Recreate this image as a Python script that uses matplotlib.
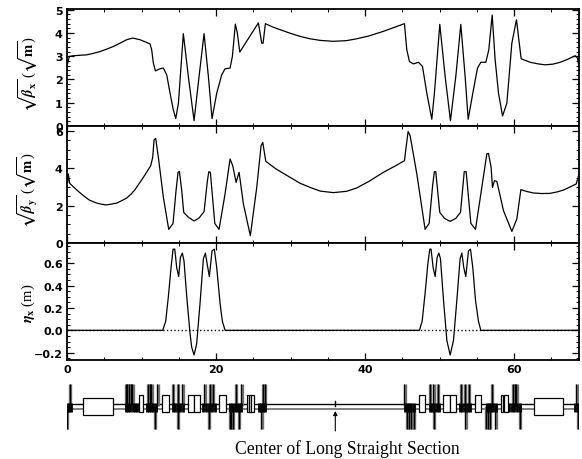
import matplotlib
matplotlib.use('Agg')
import matplotlib.pyplot as plt
from matplotlib.patches import Rectangle
from matplotlib.ticker import MultipleLocator

# optics functions
s_betax = [0.09, 0.31, 0.85, 1.7, 2.64, 3.5, 4.43, 5.3, 6.22, 7.1, 8.01, 8.81, 9.8, 11.14, 11.36, 11.59, 11.86, 12.48, 12.93, 13.38, 13.83, 14.27, 14.59, 14.95, 15.61, 16.28, 17.05, 17.72, 18.39, 18.97, 19.46, 20.09, 20.76, 21.21, 21.88, 22.19, 22.59, 22.86, 23.18, 25.68, 26.13, 26.31, 26.62, 27.5, 28.6, 29.93, 31.3, 32.62, 34.0, 35.75, 37.5, 38.88, 40.5, 42.46, 44.0, 45.28, 45.59, 45.95, 46.49, 47.16, 47.7, 48.28, 48.95, 49.3, 50.02, 50.74, 51.45, 52.17, 52.84, 53.42, 53.83, 54.45, 55.08, 55.53, 56.2, 56.6, 57.05, 57.45, 57.9, 58.44, 59.02, 59.69, 60.31, 60.63, 60.94, 62.15, 63.2, 64.16, 65.2, 66.18, 67.2, 68.19, 68.5, 68.68]
betax = [2.70, 2.99, 3.02, 3.04, 3.06, 3.12, 3.20, 3.30, 3.42, 3.56, 3.71, 3.78, 3.71, 3.53, 3.28, 2.70, 2.37, 2.46, 2.49, 2.20, 1.41, 0.69, 0.32, 0.98, 3.97, 2.13, 0.23, 2.13, 3.97, 2.13, 0.32, 1.41, 2.20, 2.46, 2.49, 2.99, 4.38, 3.99, 3.18, 4.43, 3.56, 3.56, 4.40, 4.27, 4.14, 3.99, 3.85, 3.75, 3.68, 3.64, 3.67, 3.75, 3.87, 4.07, 4.25, 4.40, 3.28, 2.77, 2.67, 2.74, 2.56, 1.41, 0.29, 1.41, 4.37, 2.13, 0.23, 2.13, 4.37, 2.13, 0.29, 1.41, 2.49, 2.74, 2.74, 3.28, 4.77, 2.84, 1.41, 0.43, 0.98, 3.56, 4.57, 3.71, 2.89, 2.74, 2.67, 2.63, 2.66, 2.74, 2.87, 3.02, 2.92, 2.56]

s_betay = [0.09, 0.18, 0.36, 1.2, 2.19, 3.0, 3.98, 4.6, 5.23, 5.9, 6.67, 7.3, 8.01, 8.6, 9.13, 10.25, 11.23, 11.5, 11.68, 11.9, 12.26, 12.93, 13.65, 14.23, 14.63, 14.9, 15.08, 15.4, 15.66, 16.28, 17.05, 17.72, 18.39, 18.84, 19.03, 19.24, 19.83, 20.4, 21.21, 21.88, 22.24, 22.69, 23.09, 23.67, 24.6, 25.46, 26.04, 26.27, 26.67, 28.0, 29.93, 31.28, 32.62, 34.0, 35.75, 37.5, 38.88, 40.5, 42.46, 44.0, 45.28, 45.5, 45.77, 46.04, 46.94, 48.05, 48.59, 49.08, 49.3, 49.48, 50.02, 50.65, 51.41, 52.17, 52.8, 53.3, 53.56, 54.19, 54.81, 55.66, 56.33, 56.55, 56.91, 57.09, 57.36, 57.68, 58.57, 59.69, 60.36, 60.9, 61.7, 62.6, 63.7, 64.83, 65.8, 66.63, 68.32, 68.68]
betay = [3.25, 3.70, 3.20, 2.88, 2.54, 2.30, 2.14, 2.08, 2.04, 2.08, 2.14, 2.26, 2.41, 2.62, 2.86, 3.52, 4.14, 4.59, 5.52, 5.61, 4.59, 2.45, 0.73, 1.05, 2.80, 3.79, 3.84, 2.80, 1.64, 1.38, 1.18, 1.34, 1.68, 3.34, 3.82, 3.79, 1.05, 0.73, 2.63, 4.50, 4.14, 3.25, 3.79, 2.09, 0.39, 2.98, 5.21, 5.39, 4.38, 3.98, 3.52, 3.20, 2.98, 2.78, 2.70, 2.77, 2.95, 3.30, 3.79, 4.12, 4.41, 5.13, 5.98, 5.75, 3.70, 0.73, 1.05, 3.16, 3.82, 3.82, 1.64, 1.32, 1.16, 1.32, 1.64, 3.82, 3.82, 1.05, 0.73, 2.98, 4.77, 4.80, 4.05, 2.98, 3.34, 3.30, 1.73, 0.62, 1.29, 2.86, 2.76, 2.68, 2.65, 2.66, 2.74, 2.84, 3.16, 3.66]

s_eta = [0, 12.84, 13.24, 13.6, 13.96, 14.23, 14.46, 14.72, 14.99, 15.21, 15.48, 15.7, 16.07, 16.51, 16.73, 17.05, 17.4, 17.85, 18.3, 18.57, 18.84, 19.1, 19.46, 19.77, 20.09, 20.54, 20.85, 21.21, 47.29, 47.65, 48.05, 48.41, 48.68, 48.85, 49.13, 49.4, 49.66, 49.89, 50.11, 50.52, 50.97, 51.41, 51.86, 52.31, 52.75, 52.98, 53.24, 53.51, 53.87, 54.14, 54.45, 54.81, 55.21, 55.53, 68.7]
eta = [0, 0, 0.08, 0.30, 0.56, 0.725, 0.725, 0.56, 0.48, 0.65, 0.69, 0.62, 0.30, -0.03, -0.15, -0.22, -0.12, 0.24, 0.64, 0.69, 0.58, 0.48, 0.71, 0.725, 0.56, 0.24, 0.08, 0, 0, 0.08, 0.33, 0.59, 0.725, 0.725, 0.56, 0.48, 0.65, 0.69, 0.64, 0.27, -0.09, -0.22, -0.09, 0.27, 0.64, 0.69, 0.56, 0.48, 0.71, 0.725, 0.56, 0.27, 0.08, 0, 0]

# lattice elements, positions along the ring (m)
long_boxes = [(2.19, 6.22), (62.6, 66.6)]
dipoles = [(12.8, 13.7), (16.2, 17.1), (17.1, 17.8), (20.4, 21.3), (47.25, 48.1), (50.5, 51.4), (51.4, 52.2), (54.8, 55.6)]
small_boxes = [(9.66, 10.2), (24.1, 24.43), (24.43, 24.74), (24.74, 25.1), (58.2, 58.5), (58.7, 59.24)]
quads_up = [0.40, 7.92, 8.14, 8.37, 8.59, 8.81, 10.92, 11.14, 11.36, 12.17, 14.27, 14.95, 15.53, 18.48, 19.2, 19.64, 22.68, 23.44, 26.35, 26.58, 45.33, 48.72, 49.18, 49.84, 52.9, 53.42, 53.96, 57.05, 59.9, 60.13, 60.36, 68.4]
quads_down = [0.05, 11.81, 14.95, 19.1, 21.88, 22.1, 22.32, 23.09, 26.13, 45.68, 45.95, 46.26, 46.62, 49.31, 53.51, 56.24, 56.56, 56.78, 57.5, 60.8, 68.6]
sext = [0.1, 0.3, 0.5, 7.9, 8.2, 8.5, 8.8, 9.1, 9.4, 10.7, 11.0, 11.3, 11.6, 11.9, 14.2, 14.5, 14.9, 15.2, 15.5, 18.2, 18.6, 19.0, 19.4, 19.8, 21.9, 22.2, 22.5, 22.8, 23.1, 23.4, 24.4, 25.7, 26.0, 26.3, 26.6, 45.3, 45.6, 45.9, 46.2, 46.6, 48.7, 49.0, 49.3, 49.6, 49.9, 52.7, 53.0, 53.4, 53.8, 54.1, 56.3, 56.6, 56.9, 57.2, 57.6, 59.3, 59.7, 60.0, 60.4, 60.8, 68.2, 68.5]
arrow_s = 36.0

S_MAX = 68.7
W, H = 582.0, 460.0

plt.rcParams['font.family'] = ['DejaVu Sans']
plt.rcParams['mathtext.fontset'] = 'stix'
plt.rcParams['font.weight'] = 'bold'


def make_panel(top, bottom):
  ax = fig.add_axes([67 / W, 1 - bottom / H, 512 / W, (bottom - top) / H])
  ax.set_xlim(0, S_MAX)
  ax.xaxis.set_major_locator(MultipleLocator(20))
  ax.xaxis.set_minor_locator(MultipleLocator(5))
  ax.tick_params(which='major', direction='in', top=True, right=True, length=5, width=0.9, labelsize=8, pad=3)
  ax.tick_params(which='minor', direction='in', top=True, right=True, length=2.2, width=0.7)
  for sp in ax.spines.values():
    sp.set_linewidth(1.3)
  return ax


def y_label(ax, text, y):
  ax.text(-0.076, y, text, transform=ax.transAxes, rotation=90, ha='center', va='center',
          fontsize=10.5, family='Liberation Serif', weight='normal')


fig = plt.figure(figsize=(5.82, 4.6), dpi=100)

ax1 = make_panel(10, 127)
ax1.plot(s_betax, betax, color='black', lw=0.9)
ax1.set_ylim(0, 5.03)
ax1.yaxis.set_major_locator(MultipleLocator(1))
ax1.yaxis.set_minor_locator(MultipleLocator(0.2))
ax1.tick_params(labelbottom=False)
y_label(ax1, r'$\sqrt{\boldsymbol{\beta}_{\mathbf{x}}}$ ($\sqrt{\mathrm{m}}$)', 0.45)

ax2 = make_panel(127, 244)
ax2.plot(s_betay, betay, color='black', lw=0.9)
ax2.set_ylim(0, 6.27)
ax2.yaxis.set_major_locator(MultipleLocator(2))
ax2.yaxis.set_minor_locator(MultipleLocator(0.5))
ax2.tick_params(labelbottom=False)
y_label(ax2, r'$\sqrt{\boldsymbol{\beta}_{\mathbf{y}}}$ ($\sqrt{\mathrm{m}}$)', 0.46)

ax3 = make_panel(244, 361)
ax3.plot([0, S_MAX], [0, 0], color='black', lw=1.0, ls=':')
ax3.plot(s_eta, eta, color='black', lw=0.9)
ax3.set_ylim(-0.265, 0.78)
ax3.yaxis.set_major_locator(MultipleLocator(0.2))
ax3.yaxis.set_minor_locator(MultipleLocator(0.05))
y_label(ax3, r'$\boldsymbol{\eta}_{\mathbf{x}}$ (m)', 0.49)

# lattice strip, y units are pixels around the beam line
lat = fig.add_axes([67 / W, 1 - 434 / H, 512 / W, 54 / H])
lat.set_xlim(0, S_MAX)
lat.set_ylim(-27, 27)
lat.axis('off')
lat.plot([0, S_MAX], [-2.5, -2.5], color='#808080', lw=1.4, zorder=1)
lat.plot([0, S_MAX], [2.5, 2.5], color='black', lw=1.0, zorder=1)
for s in quads_up:
  lat.plot([s, s], [0, 22], color='#707070', lw=2.4, solid_capstyle='butt', zorder=2)
  lat.plot([s - 0.05, s - 0.05], [0, 22], color='black', lw=0.9, solid_capstyle='butt', zorder=3)
for s in quads_down:
  lat.plot([s, s], [-23, 0], color='#707070', lw=2.4, solid_capstyle='butt', zorder=2)
  lat.plot([s - 0.05, s - 0.05], [-23, 0], color='black', lw=0.9, solid_capstyle='butt', zorder=3)
for s in sext:
  lat.plot([s, s], [-5.5, 3.5], color='black', lw=2.0, solid_capstyle='butt', zorder=4)
for a, b in long_boxes:
  lat.add_patch(Rectangle((a, -8.5), b - a, 17, fc='white', ec='black', lw=0.9, zorder=5))
for a, b in dipoles + small_boxes:
  lat.add_patch(Rectangle((a, -6), b - a, 17, fc='white', ec='black', lw=0.9, zorder=5))
lat.plot([arrow_s, arrow_s], [0, 5], color='black', lw=1.0, zorder=5)
lat.annotate('', xy=(arrow_s, -5), xytext=(arrow_s, -25),
             arrowprops=dict(arrowstyle='-|>', color='black', lw=0.8, mutation_scale=6, shrinkA=0, shrinkB=0))

fig.text(347 / W, 1 - 449 / H, 'Center of Long Straight Section', ha='center', va='center',
         fontsize=12.7, family='Liberation Serif', weight='normal')

fig.savefig('out.png', dpi=100)
